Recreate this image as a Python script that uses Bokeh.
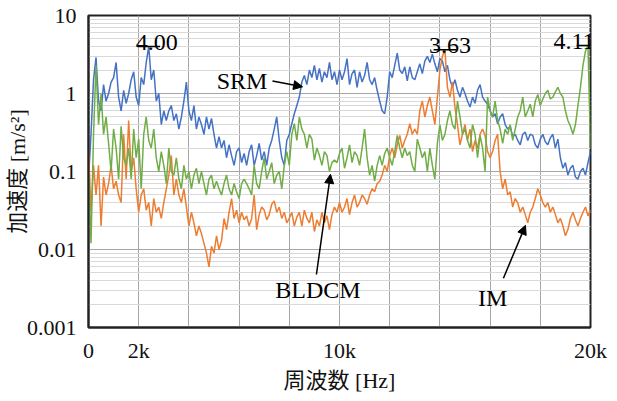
import numpy as np
from bokeh.plotting import figure
from bokeh.models import (Range1d, FixedTicker, Arrow, NormalHead,
                          ColumnDataSource, CustomJSTickFormatter)
from bokeh.core.properties import value
from bokeh.embed import file_html
from bokeh.resources import INLINE

# ---------------- data ----------------
# sample frequencies (kHz), one reading every 0.1 kHz from 0 to 20 kHz
freq_khz = np.round(np.arange(201) * 0.1, 1)

# acceleration (m/s^2) at each sample frequency
srm = [0.08, 0.3, 1.5, 2.9, 0.8, 0.6, 1.3, 0.8, 1.0, 1.4,
       1.6, 2.5, 0.9, 0.6, 1.1, 0.75, 1.0, 1.5, 1.9, 0.9,
       0.7, 1.6, 1.3, 2.5, 4.0, 1.5, 2.0, 0.8, 1.0, 0.4,
       0.6, 0.45, 0.6, 0.7, 0.45, 0.55, 0.35, 0.5, 0.8, 1.4,
       0.6, 0.45, 0.7, 0.35, 0.5, 0.4, 0.3, 0.5, 0.35, 0.48,
       0.3, 0.2, 0.28, 0.2, 0.25, 0.15, 0.22, 0.16, 0.12, 0.18,
       0.2, 0.13, 0.17, 0.12, 0.18, 0.22, 0.12, 0.16, 0.23, 0.14,
       0.18, 0.12, 0.2, 0.25, 0.35, 0.5, 0.25, 0.15, 0.12, 0.25,
       0.3, 0.41, 0.55, 0.7, 0.9, 1.4, 1.7, 1.3, 2.0, 1.6,
       2.3, 1.5, 2.1, 1.4, 1.9, 1.6, 2.5, 1.5, 1.9, 1.3,
       2.0, 1.5, 1.9, 2.8, 1.3, 1.8, 2.0, 1.2, 1.9, 1.4,
       1.7, 2.5, 1.5, 1.3, 1.6, 1.1, 0.8, 0.6, 0.55, 0.9,
       1.9, 1.6, 2.3, 3.3, 2.0, 1.8, 2.2, 1.45, 2.2, 1.6,
       1.5, 1.9, 2.4, 1.8, 2.6, 3.0, 2.5, 3.2, 2.4, 1.9,
       2.8, 2.6, 1.9, 2.3, 1.5, 1.2, 1.5, 1.1, 0.9, 1.2,
       1.0, 0.8, 0.67, 0.9, 0.75, 1.1, 1.3, 0.9, 0.8, 0.73,
       0.6, 0.5, 0.55, 0.41, 0.5, 0.55, 0.4, 0.35, 0.38, 0.28,
       0.3, 0.25, 0.22, 0.3, 0.32, 0.25, 0.3, 0.29, 0.22, 0.2,
       0.26, 0.3, 0.24, 0.22, 0.27, 0.3, 0.2, 0.26, 0.15, 0.11,
       0.13, 0.09, 0.11, 0.12, 0.085, 0.08, 0.1, 0.11, 0.09, 0.13,
       0.18]

im = [0.2, 0.03, 0.12, 0.05, 0.12, 0.02, 0.085, 0.05, 0.07, 0.12,
      0.06, 0.075, 0.05, 0.04, 0.3, 0.08, 0.45, 0.1, 0.15, 0.06,
      0.03, 0.05, 0.06, 0.032, 0.04, 0.02, 0.045, 0.03, 0.035, 0.025,
      0.04, 0.06, 0.09, 0.16, 0.05, 0.08, 0.05, 0.04, 0.06, 0.035,
      0.02, 0.03, 0.022, 0.015, 0.02, 0.016, 0.012, 0.009, 0.006, 0.011,
      0.009, 0.015, 0.01, 0.013, 0.025, 0.018, 0.03, 0.045, 0.025, 0.032,
      0.022, 0.03, 0.024, 0.027, 0.02, 0.025, 0.05, 0.018, 0.028, 0.035,
      0.032, 0.024, 0.028, 0.038, 0.042, 0.03, 0.035, 0.025, 0.03, 0.022,
      0.025, 0.03, 0.02, 0.026, 0.03, 0.02, 0.032, 0.025, 0.022, 0.03,
      0.017, 0.024, 0.02, 0.03, 0.022, 0.027, 0.018, 0.028, 0.035, 0.03,
      0.04, 0.03, 0.035, 0.045, 0.028, 0.04, 0.05, 0.035, 0.04, 0.05,
      0.045, 0.038, 0.05, 0.06, 0.055, 0.07, 0.075, 0.09, 0.12, 0.1,
      0.16, 0.2, 0.15, 0.22, 0.29, 0.2, 0.25, 0.3, 0.41, 0.3,
      0.35, 0.3, 0.6, 0.8, 0.5, 0.7, 0.9, 0.6, 0.4, 0.9,
      2.0, 3.0, 3.63, 1.2, 0.9, 1.4, 0.67, 0.4, 0.22, 0.3,
      0.4, 0.25, 0.35, 0.18, 0.25, 0.2, 0.3, 0.35, 0.29, 0.18,
      0.15, 0.18, 0.25, 0.3, 0.1, 0.06, 0.08, 0.05, 0.055, 0.035,
      0.045, 0.04, 0.03, 0.035, 0.028, 0.022, 0.03, 0.035, 0.045, 0.06,
      0.05, 0.04, 0.035, 0.04, 0.03, 0.035, 0.028, 0.022, 0.025, 0.02,
      0.015, 0.018, 0.025, 0.03, 0.024, 0.02, 0.025, 0.03, 0.035, 0.027,
      0.032]

bldcm = [0.1, 0.012, 0.3, 2.3, 0.4, 1.0, 0.3, 0.5, 0.23, 0.1,
         0.35, 0.2, 0.08, 0.38, 0.15, 0.12, 0.2, 0.08, 0.35, 0.15,
         0.26, 0.06, 0.3, 0.5, 0.25, 0.2, 0.35, 0.15, 0.1, 0.18,
         0.12, 0.07, 0.2, 0.1, 0.09, 0.15, 0.08, 0.06, 0.12, 0.08,
         0.1, 0.06, 0.09, 0.11, 0.07, 0.1, 0.07, 0.05, 0.08, 0.09,
         0.06, 0.075, 0.06, 0.05, 0.07, 0.09, 0.06, 0.05, 0.07, 0.055,
         0.045, 0.07, 0.08, 0.07, 0.06, 0.05, 0.12, 0.07, 0.06, 0.1,
         0.15, 0.08, 0.1, 0.13, 0.07, 0.09, 0.1, 0.06, 0.12, 0.18,
         0.12, 0.3, 0.41, 0.25, 0.5, 0.35, 0.3, 0.2, 0.3, 0.26,
         0.14, 0.2, 0.16, 0.12, 0.18, 0.16, 0.1, 0.13, 0.14, 0.13,
         0.17, 0.2, 0.11, 0.15, 0.22, 0.13, 0.18, 0.16, 0.12, 0.2,
         0.35, 0.15, 0.09, 0.12, 0.075, 0.12, 0.16, 0.12, 0.17, 0.2,
         0.15, 0.12, 0.18, 0.29, 0.2, 0.15, 0.2, 0.16, 0.18, 0.12,
         0.1, 0.26, 0.2, 0.15, 0.18, 0.1, 0.2, 0.12, 0.08, 0.23,
         0.4, 0.25, 0.3, 0.45, 0.6, 0.4, 0.35, 0.8, 0.5, 0.3,
         0.35, 0.25, 0.2, 0.4, 0.3, 0.15, 0.29, 0.2, 0.1, 0.9,
         0.6, 0.5, 0.8, 0.45, 0.35, 0.23, 0.35, 0.3, 0.4, 0.25,
         0.35, 0.5, 0.6, 0.9, 0.5, 0.6, 0.73, 0.5, 0.8, 0.97,
         0.7, 0.85, 1.0, 1.1, 0.85, 0.9, 1.05, 1.2, 1.0, 0.9,
         0.6, 0.45, 0.38, 0.3, 0.4, 0.7, 1.2, 2.3, 3.5, 4.11,
         0.2]

series_names = ["SRM", "BLDCM", "IM"]
peak_labels = ["4.00", "3.63", "4.11"]

x_ticks = [0, 2000, 4000, 6000, 8000, 10000, 12000, 14000, 16000, 18000, 20000]
x_tick_labels = ["0", "2k", "", "", "", "10k", "", "", "", "", "20k"]
y_ticks = [0.001, 0.01, 0.1, 1, 10]
y_tick_labels = ["0.001", "0.01", "0.1", "1", "10"]
y_minor_mantissas = [2, 3, 4, 5, 6, 7, 8, 9]

x_title = "周波数 [Hz]"
y_title = "加速度 [m/s²]"

BLUE, ORANGE, GREEN = "#4472C4", "#ED7D31", "#70AD47"
SERIF = "'Liberation Serif', serif"
MIXED = "'Liberation Serif', 'Noto Sans CJK JP', serif"

# ---------------- figure ----------------
p = figure(width=610, height=395, output_backend="svg", toolbar_location=None,
           x_range=Range1d(0, 20000), y_range=Range1d(0.001, 10), y_axis_type="log",
           min_border_left=88, min_border_right=20, min_border_top=15, min_border_bottom=55)
p.background_fill_color = "white"
p.border_fill_color = "white"
p.outline_line_color = "#222222"
p.outline_line_width = 2

y_minor = [m * t for t in y_ticks[:-1] for m in y_minor_mantissas]
p.xaxis.ticker = FixedTicker(ticks=x_ticks)
p.yaxis.ticker = FixedTicker(ticks=y_ticks, minor_ticks=y_minor)

p.xaxis.formatter = CustomJSTickFormatter(args=dict(vals=x_ticks, labs=x_tick_labels), code="""
    for (let i = 0; i < vals.length; i++) { if (Math.abs(vals[i] - tick) < 1e-6) return labs[i]; }
    return "";
""")
p.yaxis.formatter = CustomJSTickFormatter(args=dict(vals=y_ticks, labs=y_tick_labels), code="""
    for (let i = 0; i < vals.length; i++) {
        if (Math.abs(Math.log10(vals[i]) - Math.log10(tick)) < 1e-6) return labs[i];
    }
    return "";
""")

for ax in (p.xaxis, p.yaxis):
    ax.major_tick_line_color = None
    ax.minor_tick_line_color = None
    ax.axis_line_color = "#222222"
    ax.axis_line_width = 2
    ax.major_label_text_font = SERIF
    ax.major_label_text_font_size = "22px"
    ax.major_label_text_color = "#111111"
    ax.axis_label_text_font = MIXED
    ax.axis_label_text_font_size = "22px"
    ax.axis_label_text_font_style = "normal"
    ax.axis_label_text_color = "#111111"
p.xaxis.major_label_standoff = 4
p.yaxis.major_label_standoff = 6
p.xaxis.axis_label = x_title
p.yaxis.axis_label = y_title
p.xaxis.axis_label_standoff = 2
p.yaxis.axis_label_standoff = -6

p.xgrid.grid_line_color = "#a6a6a6"
p.ygrid.grid_line_color = "#a6a6a6"
p.ygrid.minor_grid_line_color = "#d9d9d9"

# ---------------- series ----------------
freq_hz = freq_khz * 1000
p.line(freq_hz, srm, line_color=BLUE, line_width=1.5)
p.line(freq_hz, im, line_color=ORANGE, line_width=1.5)
p.line(freq_hz, bldcm, line_color=GREEN, line_width=1.5)

# ---------------- peak markers ----------------
peak_f = []
peak_v = []
for v in (srm, im, bldcm):
    i = int(np.argmax(v))
    peak_f.append(float(freq_hz[i]))
    peak_v.append(v[i])
half = 450
p.segment(x0=[f - half for f in peak_f], x1=[f + half for f in peak_f],
          y0=peak_v, y1=peak_v, line_color="black", line_width=1.5)
peak_src = ColumnDataSource(dict(x=peak_f, y=peak_v, t=peak_labels, dx=[8, 5, -14]))
p.text(x="x", y="y", text="t", x_offset="dx", y_offset=-4, source=peak_src,
       text_font=value(SERIF), text_font_size="24px", text_color="black",
       text_align="center", text_baseline="alphabetic")

# ---------------- series labels with arrows ----------------
lab_x = [6120, 9140, 16100]
lab_y = [1.445, 0.00303, 0.00242]
p.text(x=lab_x, y=lab_y, text=series_names, text_font=value(SERIF),
       text_font_size="24px", text_color="black", text_align="center",
       text_baseline="middle")
arrows = [((7330, 1.445), (8530, 1.22)),
          ((9080, 0.00478), (9640, 0.092)),
          ((16530, 0.00427), (17410, 0.0204))]
for (xs, ys), (xe, ye) in arrows:
    p.add_layout(Arrow(end=NormalHead(size=9, fill_color="black", line_color="black"),
                       x_start=xs, y_start=ys, x_end=xe, y_end=ye,
                       line_color="black", line_width=1.5))

open("out.html", "w").write(file_html(p, INLINE))
